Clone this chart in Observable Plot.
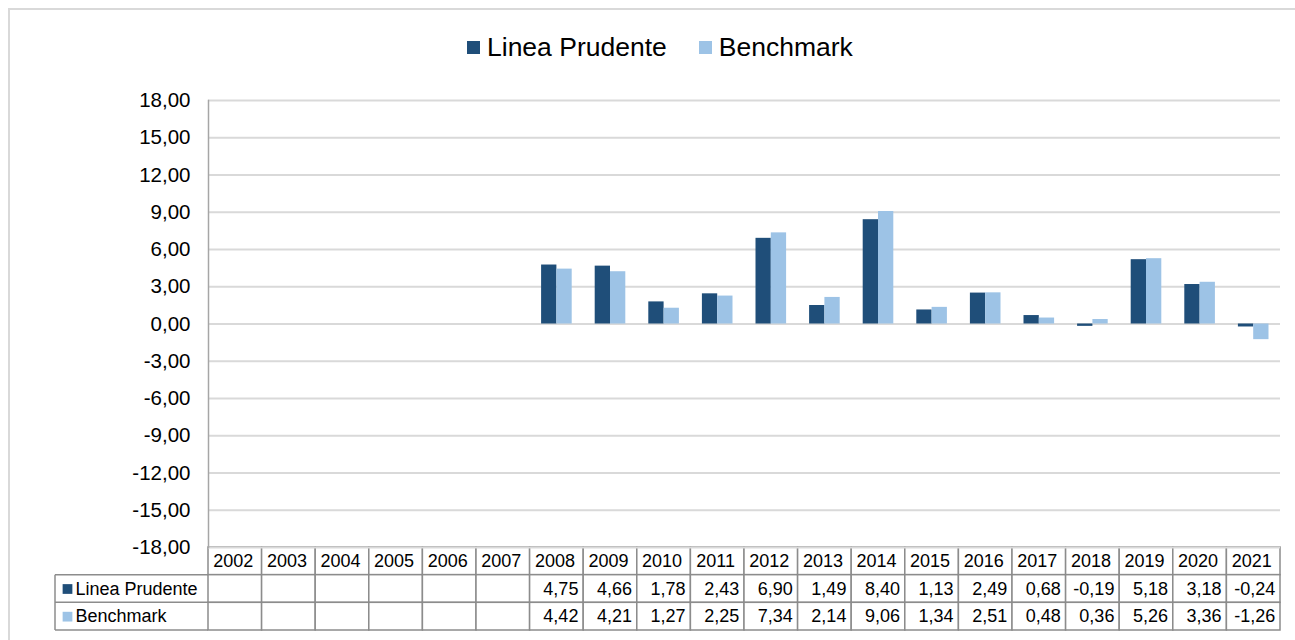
<!DOCTYPE html>
<html><head><meta charset="utf-8">
<script src="https://cdn.jsdelivr.net/npm/d3@7"></script>
<script src="https://cdn.jsdelivr.net/npm/@observablehq/plot@0.6"></script>
<style>
html,body{margin:0;padding:0;background:#fff;font-family:"Liberation Sans",Arial,sans-serif;overflow:hidden;}
#wrap{position:relative;width:1295px;height:640px;overflow:hidden;background:#fff;}
#border{position:absolute;left:8px;top:8px;width:1400px;height:700px;border-left:2px solid #d9d9d9;border-top:2px solid #d9d9d9;}
#legend{position:absolute;left:467px;top:31px;height:32px;display:flex;align-items:center;font-size:26.5px;color:#000;white-space:nowrap;}
#legend .sw{display:inline-block;width:13px;height:13px;margin-right:7px;}
#legend .item{display:flex;align-items:center;margin-right:32px;}
#main{position:absolute;left:0;top:0;width:1295px;height:562px;}
#table{position:absolute;left:0;top:546px;width:1295px;height:85px;}
#main svg,#table svg{max-width:none !important;display:block;}
</style>
</head><body>
<div id="wrap">
  <div id="border"></div>
  <div id="legend"></div>
  <div id="table"></div>
  <div id="main"></div>
</div>
<script>
const years = ["2002","2003","2004","2005","2006","2007","2008","2009","2010","2011","2012","2013","2014","2015","2016","2017","2018","2019","2020","2021"];
const lineaPrudente = [null,null,null,null,null,null,4.75,4.66,1.78,2.43,6.90,1.49,8.40,1.13,2.49,0.68,-0.19,5.18,3.18,-0.24];
const benchmark = [null,null,null,null,null,null,4.42,4.21,1.27,2.25,7.34,2.14,9.06,1.34,2.51,0.48,0.36,5.26,3.36,-1.26];
const seriesNames = ["Linea Prudente","Benchmark"];
const seriesColors = ["#1f4e79","#9dc3e6"];
const yTicks = [-18,-15,-12,-9,-6,-3,0,3,6,9,12,15,18];

const fmt = v => v.toFixed(2).replace(".", ",");
const lpData = years.map((y,i) => ({year:y, value:lineaPrudente[i]}));
const bmData = years.map((y,i) => ({year:y, value:benchmark[i]}));

// Legend
const leg = document.getElementById("legend");
seriesNames.forEach((n,i) => {
  const it = document.createElement("span"); it.className = "item";
  const sw = document.createElement("span"); sw.className = "sw"; sw.style.background = seriesColors[i];
  it.appendChild(sw); it.appendChild(document.createTextNode(n));
  leg.appendChild(it);
});

const font = "Liberation Sans, Arial, sans-serif";

const main = Plot.plot({
  width: 1295, height: 562,
  marginTop: 100, marginBottom: 15, marginLeft: 208, marginRight: 15,
  style: {background: "transparent", fontFamily: font, overflow: "visible"},
  x: {type: "band", domain: years, padding: 0, round: false, axis: null},
  y: {domain: [-18, 18], axis: null},
  marks: [
    Plot.gridY(yTicks, {stroke: "#d9d9d9", strokeOpacity: 1, strokeWidth: 2}),
    Plot.frame({anchor: "left", stroke: "#a6a6a6", strokeWidth: 1.5}),
    Plot.axisY(yTicks, {tickSize: 0, tickPadding: 18, tickFormat: fmt, fontSize: 20.5, fill: "#000", label: null}),
    Plot.barY(lpData.filter(d => d.value != null), {x: "year", y: "value", fill: seriesColors[0], insetLeft: 11.5, insetRight: 26.8}),
    Plot.barY(bmData.filter(d => d.value != null), {x: "year", y: "value", fill: seriesColors[1], insetLeft: 26.8, insetRight: 11.5})
  ]
});
document.getElementById("main").appendChild(main);

// Table
const rows = ["year", ...seriesNames];
const cells = [];
years.forEach((y,i) => {
  cells.push({year: y, row: "year", label: y, kind: "year"});
  cells.push({year: y, row: seriesNames[0], label: lineaPrudente[i] == null ? "" : fmt(lineaPrudente[i]), kind: "val"});
  cells.push({year: y, row: seriesNames[1], label: benchmark[i] == null ? "" : fmt(benchmark[i]), kind: "val"});
});
const tbl = Plot.plot({
  width: 1295, height: 85,
  marginTop: 1, marginBottom: 1, marginLeft: 208, marginRight: 15,
  style: {background: "transparent", fontFamily: font},
  x: {type: "band", domain: years, padding: 0, round: false, axis: null},
  y: {type: "band", domain: rows, padding: 0, round: false, axis: null},
  marks: [
    Plot.cell(cells, {x: "year", y: "row", fill: "white", stroke: "#8c8c8c", strokeWidth: 1.5, inset: 0}),
    Plot.text(cells.filter(d => d.kind === "year"), {x: "year", y: "row", text: "label", fontSize: 18, fill: "#000", dx: -2}),
    Plot.text(cells.filter(d => d.kind === "val"), {x: "year", y: "row", text: "label", fontSize: 18, fill: "#000", textAnchor: "end", dx: 21.5}),
    Plot.dot(seriesNames, {y: d => d, frameAnchor: "left", dx: -141, symbol: "square", r: 5.5, fill: d => seriesColors[seriesNames.indexOf(d)]}),
    Plot.text(seriesNames, {y: d => d, text: d => d, frameAnchor: "left", dx: -133, textAnchor: "start", fontSize: 18, fill: "#000"})
  ]
});
// label column box, using the table's scales
const ys = tbl.scale("y");
const svg = d3.select(tbl);
const left = 55, right = 208;
const yTop = ys.apply(seriesNames[0]);
const yMid = ys.apply(seriesNames[1]);
const yBot = yMid + ys.bandwidth;
const g = svg.append("g").attr("stroke", "#8c8c8c").attr("stroke-width", 1.5);
[yTop, yMid, yBot].forEach(y => g.append("line").attr("x1", left).attr("x2", right).attr("y1", y).attr("y2", y));
g.append("line").attr("x1", left).attr("x2", left).attr("y1", yTop).attr("y2", yBot);
document.getElementById("table").appendChild(tbl);
</script>
</body></html>
